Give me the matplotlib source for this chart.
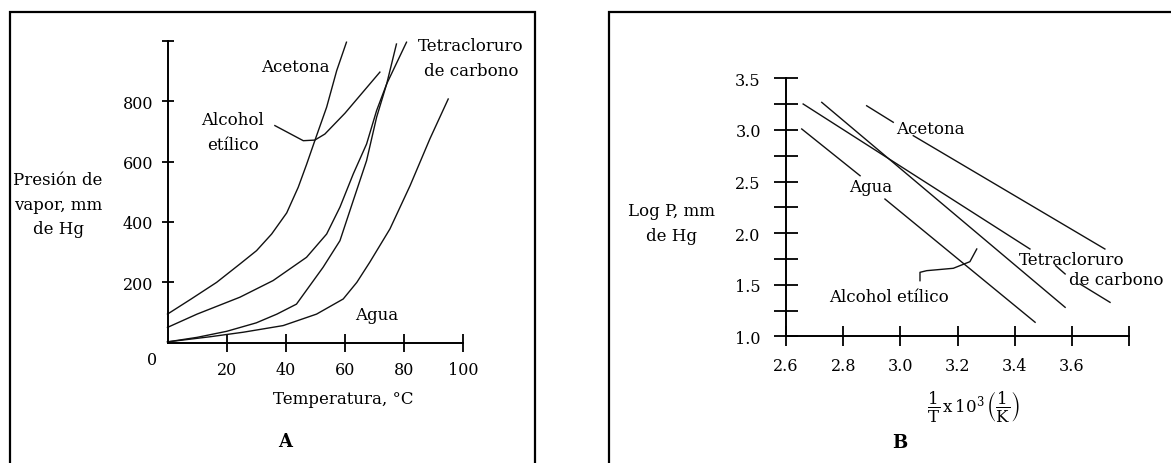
import numpy as np
import matplotlib.pyplot as plt
from matplotlib.patches import Rectangle

plt.rcParams['font.family'] = ['DejaVu Serif']
plt.rcParams['mathtext.fontset'] = 'dejavuserif'

# --- Panel A: presión de vapor frente a temperatura
temp_acetona = [0, 8, 16.6, 24.5, 30.1, 35.2, 40.3, 44.2, 47, 49.8, 53.8, 57.2, 60.5]
pres_acetona = [95, 145, 200, 261, 305, 360, 430, 515, 590, 669, 780, 901, 995]

temp_tetra = [0, 10, 24.5, 35.7, 47, 53.8, 58.3, 62.8, 67.3, 70.7, 74.1, 77.4]
pres_tetra = [51, 95, 151, 206, 283, 360, 449, 559, 658, 769, 857, 989]

temp_etanol = [0, 10, 20, 30, 37, 43.6, 52.6, 58.3, 62.8, 67.3, 70.7, 74.1, 80.8]
pres_etanol = [3, 18, 38, 66, 95, 128, 250, 338, 471, 603, 747, 857, 995]

temp_agua = [0, 14.4, 25.6, 39.1, 50.4, 59.4, 64, 68.4, 75.2, 82, 88.7, 94.9]
pres_agua = [3, 20, 35, 57, 95, 145, 200, 267, 377, 520, 675, 807]

# flecha del rótulo "Alcohol etílico"
flecha_a_x = [36.3, 45.9, 49.8, 53.2, 60, 71.8]
flecha_a_y = [719, 669, 671, 691, 760, 896]

ticks_a_x = [20, 40, 60, 80, 100]
ticks_a_y = [200, 400, 600, 800, 1000]
labels_a_y = ['200', '400', '600', '800', '']

# --- Panel B: log P frente a 1/T (tramos separados por los rótulos)
invT_acetona = [[2.882, 2.975], [3.045, 3.715]]
logp_acetona = [[3.234, 3.074], [2.944, 1.846]]

invT_tetra = [[2.660, 3.453], [3.543, 3.576], [3.628, 3.733]]
logp_tetra = [[3.251, 1.846], [1.684, 1.604], [1.507, 1.329]]

invT_etanol = [[2.725, 3.576]]
logp_etanol = [[3.267, 1.281]]

invT_agua = [[2.655, 2.859], [2.946, 3.471]]
logp_agua = [[3.009, 2.556], [2.330, 1.136]]

flecha_b_x = [3.0685, 3.0685, 3.092, 3.185, 3.243, 3.267]
flecha_b_y = [1.539, 1.620, 1.636, 1.659, 1.723, 1.846]

ticks_b_x = [2.6, 2.8, 3.0, 3.2, 3.4, 3.6, 3.8]
labels_b_x = ['2.6', '2.8', '3.0', '3.2', '3.4', '3.6', '']
ticks_b_y = [1.0, 1.5, 2.0, 2.5, 3.0, 3.5]
minor_b_y = [1.25, 1.75, 2.25, 2.75, 3.25]

W, H = 1171, 464
fig = plt.figure(figsize=(W / 100, H / 100), dpi=100)
fig.patch.set_facecolor('white')

# marcos de los dos paneles
fig.add_artist(Rectangle((10 / W, -0.1), 525 / W, 1.1 - 13 / H, transform=fig.transFigure,
                         fill=False, lw=1.6, ec='black'))
fig.add_artist(Rectangle((609 / W, -0.1), 0.6, 1.1 - 13 / H, transform=fig.transFigure,
                         fill=False, lw=1.6, ec='black'))

fs = 12      # rótulos
fst = 11.5   # números de los ejes
ls = 1.6
lc = '#111111'


def estilo_ejes(ax):
    for s in ['top', 'right']:
        ax.spines[s].set_visible(False)
    for s in ['left', 'bottom']:
        ax.spines[s].set_linewidth(1.4)
    ax.set_facecolor('none')


# ---------------- Panel A ----------------
axA = fig.add_axes([167.5 / W, (H - 343.8) / H, 295.8 / W, 302.1 / H])
estilo_ejes(axA)
axA.set_xlim(0, 100)
axA.set_ylim(0, 1000)
axA.set_xticks(ticks_a_x)
axA.set_yticks(ticks_a_y)
axA.set_yticklabels(labels_a_y)
axA.tick_params(axis='y', direction='inout', length=8.6, width=1.3, pad=6.0, labelsize=fst)
axA.tick_params(axis='x', direction='inout', length=13, width=1.3, pad=6.5, labelsize=fst)

for tx, py in [(temp_acetona, pres_acetona), (temp_tetra, pres_tetra),
               (temp_etanol, pres_etanol), (temp_agua, pres_agua)]:
    axA.plot(tx, py, color=lc, lw=1.0, clip_on=False)
axA.plot(flecha_a_x, flecha_a_y, color=lc, lw=1.0, clip_on=False)

axA.text(43.1, 915, 'Acetona', ha='center', va='center', fontsize=fs)
axA.text(22.0, 698, 'Alcohol\netílico', ha='center', va='center', fontsize=fs, linespacing=ls)
axA.text(102.6, 943, 'Tetracloruro\nde carbono', ha='center', va='center', fontsize=fs,
         linespacing=ls)
axA.text(70.8, 95, 'Agua', ha='center', va='center', fontsize=fs)
axA.text(-5.3, -54, '0', ha='center', va='center', fontsize=fst)
axA.text(-37, 459, 'Presión de\nvapor, mm\nde Hg', ha='center', va='center', fontsize=fs,
         linespacing=ls)
axA.text(59.3, -186, 'Temperatura, °C', ha='center', va='center', fontsize=fs)
axA.text(39.7, -325, 'A', ha='center', va='center', fontsize=13, fontweight='bold')

# ---------------- Panel B ----------------
axB = fig.add_axes([786 / W, (H - 337.3) / H, 343.2 / W, 258 / H])
estilo_ejes(axB)
axB.set_xlim(2.6, 3.8)
axB.set_ylim(1.0, 3.5)
axB.set_xticks(ticks_b_x)
axB.set_xticklabels(labels_b_x)
axB.set_yticks(ticks_b_y)
axB.set_yticklabels(['%.1f' % v for v in ticks_b_y])
axB.set_yticks(minor_b_y, minor=True)
axB.tick_params(axis='y', which='both', direction='inout', length=17.3, width=1.3, pad=9.5,
                labelsize=fst)
axB.tick_params(axis='x', direction='inout', length=14.4, width=1.3, pad=7.5, labelsize=fst)

for xs, ys in [(invT_acetona, logp_acetona), (invT_tetra, logp_tetra),
               (invT_etanol, logp_etanol), (invT_agua, logp_agua)]:
    for sx, sy in zip(xs, ys):
        axB.plot(sx, sy, color=lc, lw=1.0, clip_on=False)
axB.plot(flecha_b_x, flecha_b_y, color=lc, lw=1.0, clip_on=False)

axB.text(3.1035, 3.009, 'Acetona', ha='center', va='center', fontsize=fs)
axB.text(2.897, 2.447, 'Agua', ha='center', va='center', fontsize=fs)
axB.text(2.960, 1.381, 'Alcohol etílico', ha='center', va='center', fontsize=fs)
axB.text(3.599, 1.749, 'Tetracloruro', ha='center', va='center', fontsize=fs)
axB.text(3.754, 1.555, 'de carbono', ha='center', va='center', fontsize=fs)
axB.text(2.201, 2.098, 'Log P, mm\nde Hg', ha='center', va='center', fontsize=fs,
         linespacing=ls)
axB.text(3.257, 0.325,
         r'$\dfrac{1}{\mathrm{T}}\,\mathrm{x}\,10^3\,\left(\dfrac{1}{\mathrm{K}}\right)$',
         ha='center', va='center', fontsize=12)
axB.text(2.999, -0.024, 'B', ha='center', va='center', fontsize=13, fontweight='bold')

fig.savefig('out.png', dpi=100, facecolor='white')
